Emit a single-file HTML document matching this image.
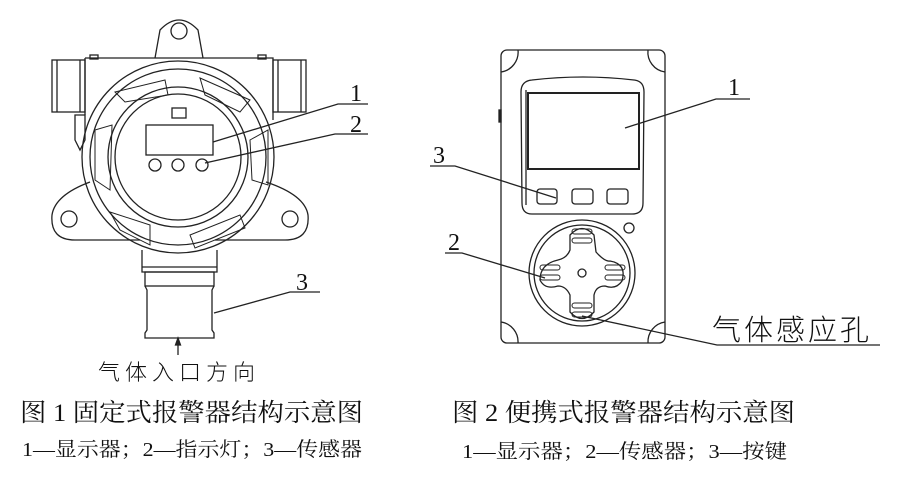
<!DOCTYPE html>
<html><head><meta charset="utf-8"><style>
html,body{margin:0;padding:0;background:#fff;}
svg{display:block;}
text{font-family:"Liberation Serif","Noto Serif CJK SC",serif;fill:#111;}
</style></head><body>
<svg width="900" height="483" viewBox="0 0 900 483" xmlns="http://www.w3.org/2000/svg">
<g fill="none" stroke="#222" stroke-width="1.3">
<path d="M155 58 L160 30 Q179 10 198 30 L203 58"/>
<circle cx="179" cy="31" r="8"/>
<path d="M85 58 L273 58 L273 120"/>
<path d="M85 58 L85 115"/>
<rect x="52" y="60" width="33" height="52"/>
<line x1="57" y1="60" x2="57" y2="112"/><line x1="80" y1="60" x2="80" y2="112"/>
<rect x="273" y="60" width="33" height="52"/>
<line x1="278" y1="60" x2="278" y2="112"/><line x1="301" y1="60" x2="301" y2="112"/>
<rect x="90" y="55" width="8" height="4"/><rect x="258" y="55" width="8" height="4"/>
<path d="M75 115 L85 115 L85 140 L80 150 L75 140 Z"/>
<path d="M90 182 Q55 195 52 215 Q50 240 75 240 L140 240"/>
<path d="M266 182 Q305 195 308 215 Q310 240 285 240 L215 240"/>
<circle cx="69" cy="219" r="8"/><circle cx="290" cy="219" r="8"/>
<circle cx="178" cy="157" r="96"/>
<circle cx="178" cy="157" r="88"/>
<circle cx="178" cy="157" r="70"/>
<circle cx="178" cy="157" r="63"/>
<g stroke-width="1">
<path d="M115 92 L165 80 L168 95 L125 102 Z"/>
<path d="M200 78 L250 100 L240 112 L205 95 Z"/>
<path d="M95 130 L112 125 L110 190 L95 180 Z"/>
<path d="M250 140 L268 130 L268 185 L252 180 Z"/>
<path d="M110 212 L150 225 L150 245 L120 230 Z"/>
<path d="M190 235 L240 215 L245 228 L195 248 Z"/>
</g>
<rect x="146" y="125" width="67" height="30"/>
<rect x="172" y="108" width="14" height="10"/>
<circle cx="155" cy="165" r="6"/><circle cx="178" cy="165" r="6"/><circle cx="202" cy="165" r="6"/>
<path d="M142 250 L142 272 L217 272 L217 250"/>
<line x1="142" y1="267" x2="217" y2="267"/>
<rect x="145" y="272" width="69" height="14"/>
<path d="M145 286 L147 290 L147 330 L145 333 L145 338 L214 338 L214 333 L212 330 L212 290 L214 286"/>
<line x1="178" y1="355" x2="178" y2="340"/>
<path d="M175.5 345 L178 338 L180.5 345 Z" fill="#222"/>
<path d="M368 104 L338 104 L213 142"/>
<path d="M368 134 L335 134 L205 163"/>
<path d="M320 292 L290 292 L214 313"/>

<rect x="501" y="50" width="164" height="293" rx="6"/>
<path d="M501 72 A20 20 0 0 0 518 50"/>
<path d="M648 50 A20 20 0 0 0 665 72"/>
<path d="M501 322 A20 20 0 0 1 518 343"/>
<path d="M648 343 A20 20 0 0 1 665 322"/>
<path d="M532 80 Q583 74 634 80 Q644 81 644 92 L643 203 Q643 214 632 214 L532 214 Q522 214 522 203 L521 92 Q521 81 532 80 Z"/>
<path d="M526 90 L526 205"/>
<rect x="528" y="93" width="111" height="76" stroke-width="2"/>
<rect x="537" y="189" width="20" height="15" rx="3"/>
<rect x="572" y="189" width="21" height="15" rx="3"/>
<rect x="607" y="189" width="21" height="15" rx="3"/>
<circle cx="629" cy="228" r="5"/>
<rect x="499" y="110" width="2" height="12" fill="#222"/>
<circle cx="582" cy="273" r="53"/>
<circle cx="582" cy="273" r="48"/>
<path d="M570 235 Q582 222 594 235 L596 252 Q605 262 610 261 Q627 264 622 281 Q616 290 605 286 Q596 286 594 295 L594 312 Q582 325 570 312 L570 295 Q566 286 558 286 Q545 290 540 280 Q540 264 558 260 Q567 258 570 250 Z"/>
<circle cx="582" cy="273" r="4"/>
<g stroke-width="1">
<rect x="572" y="229" width="20" height="5" rx="2.5"/><rect x="572" y="238" width="20" height="5" rx="2.5"/>
<rect x="572" y="303" width="20" height="5" rx="2.5"/><rect x="572" y="312" width="20" height="5" rx="2.5"/>
<rect x="540" y="265" width="20" height="5" rx="2.5"/><rect x="540" y="275" width="20" height="5" rx="2.5"/>
<rect x="605" y="265" width="20" height="5" rx="2.5"/><rect x="605" y="275" width="20" height="5" rx="2.5"/>
</g>
<path d="M750 99 L716 99 L625 128"/>
<path d="M430 166 L455 166 L556 198"/>
<path d="M445 253 L462 253 L545 278"/>
<path d="M880 345 L717 345 L582 316"/>
</g>
<g font-size="24">
<text x="350" y="101">1</text>
<text x="350" y="132">2</text>
<text x="296" y="290">3</text>
<text x="728" y="95">1</text>
<text x="433" y="163">3</text>
<text x="448" y="250">2</text>
</g>
<text x="98" y="380" font-size="22" letter-spacing="5" style="font-family:'Noto Sans CJK SC',sans-serif;font-weight:300">气体入口方向</text>
<text x="712" y="340" font-size="29" letter-spacing="3" style="font-family:'Noto Sans CJK SC',sans-serif;font-weight:300">气体感应孔</text>
<text x="20" y="421" font-size="25" textLength="343" lengthAdjust="spacingAndGlyphs">图 1 固定式报警器结构示意图</text>
<text x="22" y="456" font-size="20" textLength="340" lengthAdjust="spacingAndGlyphs">1—显示器；2—指示灯；3—传感器</text>
<text x="452" y="421" font-size="25" textLength="343" lengthAdjust="spacingAndGlyphs">图 2 便携式报警器结构示意图</text>
<text x="462" y="458" font-size="20" textLength="325" lengthAdjust="spacingAndGlyphs">1—显示器；2—传感器；3—按键</text>
</svg>
</body></html>
